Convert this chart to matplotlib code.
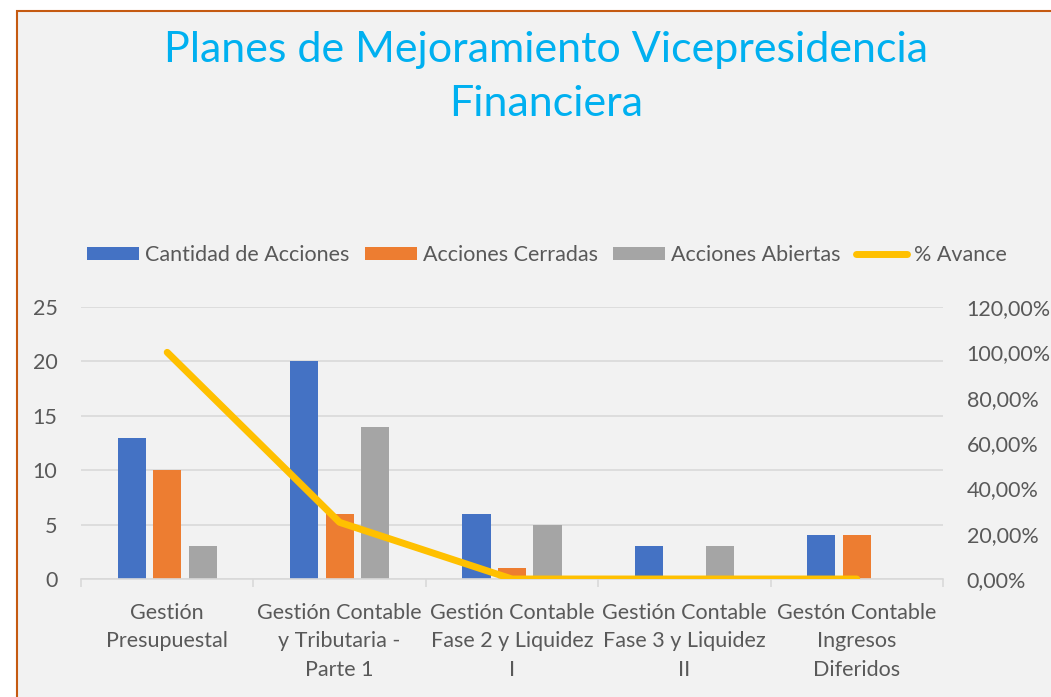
import matplotlib.pyplot as plt
import numpy as np
from matplotlib.patches import Rectangle
from matplotlib.ticker import FuncFormatter

categorias = ["Gestión\nPresupuestal",
              "Gestión Contable\ny Tributaria -\nParte 1",
              "Gestión Contable\nFase 2 y Liquidez\nI",
              "Gestión Contable\nFase 3 y Liquidez\nII",
              "Gestón Contable\nIngresos\nDiferidos"]
cantidad = [13, 20, 6, 3, 4]
cerradas = [10, 6, 1, 0, 4]
abiertas = [3, 14, 5, 3, 0]
avance = [1.0, 0.25, 0.0, 0.0, 0.0]

plt.rcParams['font.family'] = ['Lato', 'DejaVu Sans']
gris_texto = '#595959'
fs = 15.5

fig = plt.figure(figsize=(10.51, 6.97), dpi=100)
fig.patch.set_facecolor('white')
fig.patches.append(Rectangle((17 / 1051, -0.05), 1.1, 1 - 11 / 697 + 0.05,
                             transform=fig.transFigure, facecolor='#f2f2f2',
                             edgecolor='#c55a11', linewidth=1.5, zorder=-10))

ax = fig.add_axes([81 / 1051, 1 - 579 / 697, (943 - 81) / 1051, (579 - 307) / 697])
ax.set_facecolor('none')
x = np.arange(len(categorias))
w = 0.163
sep = 0.206
ax.bar(x - sep, cantidad, w, color='#4472c4', label='Cantidad de Acciones', zorder=2)
ax.bar(x, cerradas, w, color='#ed7d31', label='Acciones Cerradas', zorder=2)
ax.bar(x + sep, abiertas, w, color='#a5a5a5', label='Acciones Abiertas', zorder=2)
ax.set_ylim(0, 25)
ax.set_yticks(range(0, 26, 5))
ax.set_xlim(-0.5, len(categorias) - 0.5)
ax.grid(axis='y', color='#d9d9d9', linewidth=1.2, zorder=0)
ax.set_axisbelow(True)
for s in ['top', 'right', 'left']:
    ax.spines[s].set_visible(False)
ax.spines['bottom'].set_color('#d9d9d9')
ax.spines['bottom'].set_linewidth(1.2)
ax.set_xticks(np.arange(-0.5, len(categorias), 1))
ax.set_xticklabels([])
ax.tick_params(axis='x', length=6, color='#d9d9d9', width=1.2)
ax.set_xticks(x, minor=True)
ax.set_xticklabels(categorias, minor=True, fontsize=fs, color=gris_texto, linespacing=1.55)
ax.tick_params(axis='x', which='minor', length=0, pad=17)
ax.tick_params(axis='y', length=0, labelsize=fs, labelcolor=gris_texto, pad=17)

ax2 = ax.twinx()
ax2.plot(x, avance, color='#ffc000', linewidth=5, solid_capstyle='round',
         solid_joinstyle='round', label='% Avance', zorder=3)
ax2.set_ylim(0, 1.2)
ax2.set_yticks(np.arange(0, 1.21, 0.2))
ax2.yaxis.set_major_formatter(FuncFormatter(lambda v, p: f"{v * 100:.2f}%".replace('.', ',')))
ax2.tick_params(axis='y', length=0, labelsize=fs, labelcolor=gris_texto, pad=17)
for s in ax2.spines.values():
    s.set_visible(False)

h1, l1 = ax.get_legend_handles_labels()
h2, l2 = ax2.get_legend_handles_labels()
fig.legend(h1 + h2, l1 + l2, loc='center', bbox_to_anchor=(547 / 1051, 1 - 255 / 697),
           ncol=4, frameon=False, fontsize=fs, labelcolor=gris_texto,
           handlelength=2.4, handleheight=0.6, handletextpad=0.3, columnspacing=0.7)

fig.text(546 / 1051, 1 - 77 / 697, "Planes de Mejoramiento Vicepresidencia\nFinanciera",
         ha='center', va='center', fontsize=31, color='#00b0f0', linespacing=1.5)

fig.savefig('out.png', dpi=100)
